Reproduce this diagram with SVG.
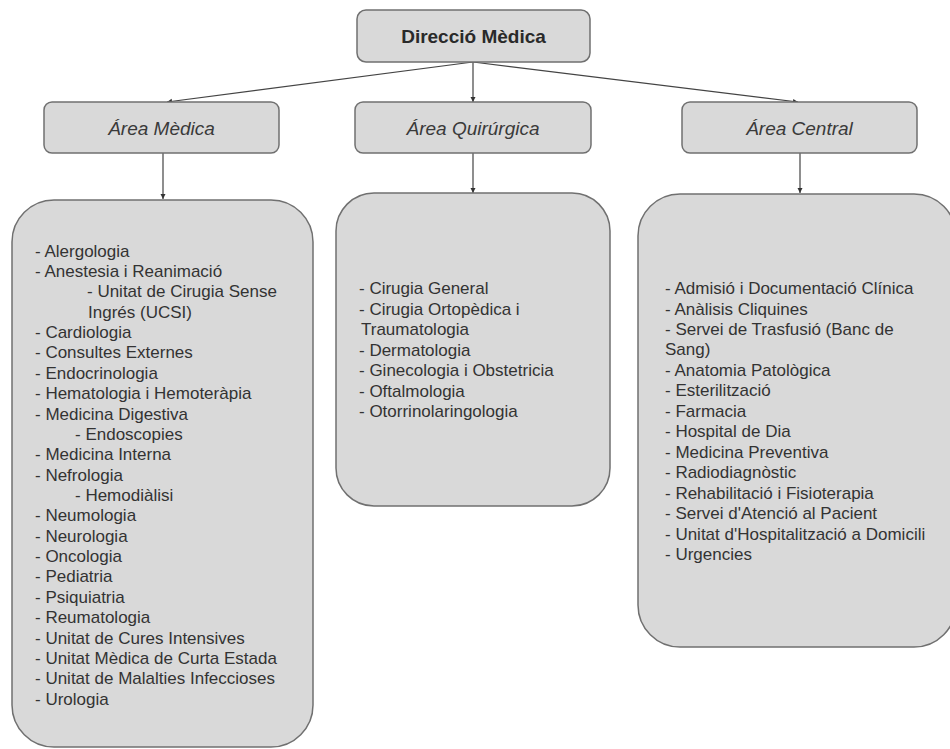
<svg xmlns="http://www.w3.org/2000/svg" width="950" height="749" viewBox="0 0 950 749">
<style>
.box{fill:#d9d9d9;stroke:#707070;stroke-width:1.5}
.head{font-family:"Liberation Sans",Arial,sans-serif;font-size:19px;fill:#2a2a2a;text-anchor:middle}
.bold{font-weight:bold}
.it{font-style:italic;fill:#3a3a3a}
.list{font-family:"Liberation Sans",Arial,sans-serif;font-size:17px;fill:#333}
.conn{stroke:#444;stroke-width:1.2;fill:none;marker-end:url(#ah)}
</style>
<defs>
<marker id="ah" markerUnits="userSpaceOnUse" markerWidth="6" markerHeight="6" refX="5" refY="3" orient="auto">
<path d="M0,0.5 L5,3 L0,5.5 Z" fill="#333"/>
</marker>
</defs>
<rect width="950" height="749" fill="#ffffff"/>
<g id="connectors">
<line class="conn" x1="473" y1="62" x2="167" y2="102"/>
<line class="conn" x1="473" y1="62" x2="473" y2="102"/>
<line class="conn" x1="473" y1="62" x2="798" y2="102"/>
<line class="conn" x1="163" y1="153" x2="163" y2="199"/>
<line class="conn" x1="473" y1="153" x2="473" y2="193"/>
<line class="conn" x1="800" y1="153" x2="800" y2="193"/>
</g>
<g id="direccio">
<rect class="box" x="357" y="10" width="233" height="52" rx="9"/>
<text class="head bold" x="473.5" y="43">Direcció Mèdica</text>
</g>
<g id="area-medica">
<rect class="box" x="44" y="102" width="235" height="51" rx="8"/>
<text class="head it" x="161.5" y="135">Área Mèdica</text>
</g>
<g id="area-quirurgica">
<rect class="box" x="355" y="102" width="236" height="51" rx="8"/>
<text class="head it" x="473" y="135">Área Quirúrgica</text>
</g>
<g id="area-central">
<rect class="box" x="682" y="102" width="235" height="51" rx="8"/>
<text class="head it" x="799.5" y="135">Área Central</text>
</g>
<g id="list-medica">
<rect class="box" x="12" y="200" width="301" height="547" rx="42"/>
<text class="list">
<tspan x="35" y="256.5">- Alergologia</tspan>
<tspan x="35" y="276.9">- Anestesia i Reanimació</tspan>
<tspan x="87" y="297.2">- Unitat de Cirugia Sense</tspan>
<tspan x="88" y="317.6">Ingrés (UCSI)</tspan>
<tspan x="35" y="338">- Cardiologia</tspan>
<tspan x="35" y="358.3">- Consultes Externes</tspan>
<tspan x="35" y="378.7">- Endocrinologia</tspan>
<tspan x="35" y="399.1">- Hematologia i Hemoteràpia</tspan>
<tspan x="35" y="419.5">- Medicina Digestiva</tspan>
<tspan x="75" y="439.8">- Endoscopies</tspan>
<tspan x="35" y="460.2">- Medicina Interna</tspan>
<tspan x="35" y="480.6">- Nefrologia</tspan>
<tspan x="75" y="500.9">- Hemodiàlisi</tspan>
<tspan x="35" y="521.3">- Neumologia</tspan>
<tspan x="35" y="541.7">- Neurologia</tspan>
<tspan x="35" y="562">- Oncologia</tspan>
<tspan x="35" y="582.4">- Pediatria</tspan>
<tspan x="35" y="602.8">- Psiquiatria</tspan>
<tspan x="35" y="623.1">- Reumatologia</tspan>
<tspan x="35" y="643.5">- Unitat de Cures Intensives</tspan>
<tspan x="35" y="663.9">- Unitat Mèdica de Curta Estada</tspan>
<tspan x="35" y="684.2">- Unitat de Malalties Infeccioses</tspan>
<tspan x="35" y="704.6">- Urologia</tspan>
</text>
</g>
<g id="list-quirurgica">
<rect class="box" x="336" y="193" width="274" height="313" rx="38"/>
<text class="list">
<tspan x="359" y="294">- Cirugia General</tspan>
<tspan x="359" y="314.5">- Cirugia Ortopèdica i</tspan>
<tspan x="361" y="335">Traumatologia</tspan>
<tspan x="359" y="355.5">- Dermatologia</tspan>
<tspan x="359" y="376">- Ginecologia i Obstetricia</tspan>
<tspan x="359" y="396.5">- Oftalmologia</tspan>
<tspan x="359" y="417">- Otorrinolaringologia</tspan>
</text>
</g>
<g id="list-central">
<rect class="box" x="638" y="194" width="318" height="453" rx="42"/>
<text class="list">
<tspan x="665" y="294">- Admisió i Documentació Clínica</tspan>
<tspan x="665" y="314.5">- Anàlisis Cliquines</tspan>
<tspan x="665" y="334.9">- Servei de Trasfusió (Banc de</tspan>
<tspan x="665" y="355.4">Sang)</tspan>
<tspan x="665" y="375.8">- Anatomia Patològica</tspan>
<tspan x="665" y="396.3">- Esterilització</tspan>
<tspan x="665" y="416.8">- Farmacia</tspan>
<tspan x="665" y="437.2">- Hospital de Dia</tspan>
<tspan x="665" y="457.7">- Medicina Preventiva</tspan>
<tspan x="665" y="478.1">- Radiodiagnòstic</tspan>
<tspan x="665" y="498.6">- Rehabilitació i Fisioterapia</tspan>
<tspan x="665" y="519.1">- Servei d'Atenció al Pacient</tspan>
<tspan x="665" y="539.5">- Unitat d'Hospitalització a Domicili</tspan>
<tspan x="665" y="560">- Urgencies</tspan>
</text>
</g>
</svg>
